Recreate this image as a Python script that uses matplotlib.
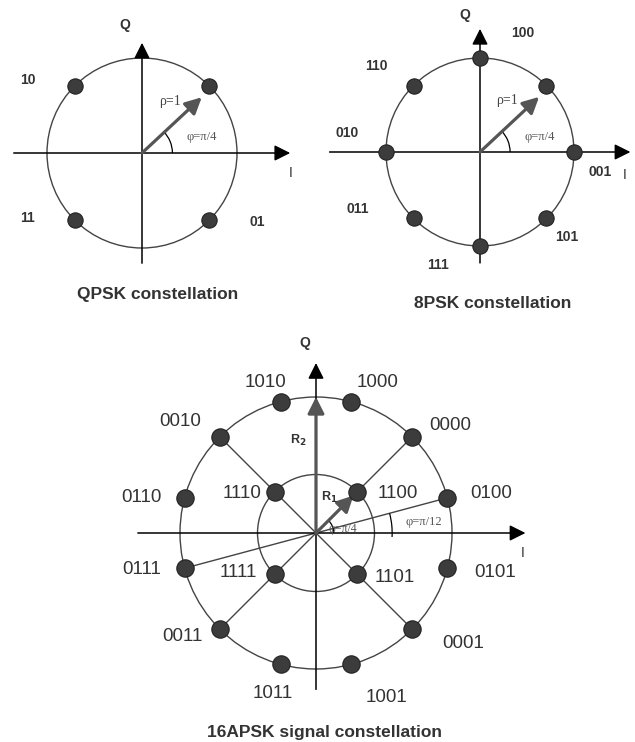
import matplotlib
matplotlib.use("Agg")
import matplotlib.pyplot as plt
from matplotlib.patches import Circle, Arc
import numpy as np

# ─── Data ────────────────────────────────────────────────────────────────

qpsk_angles = [45, 135, 225, 315]
qpsk_labels = ["10", "11", "01"]

psk8_angles = [0, 45, 90, 135, 180, 225, 270, 315]
psk8_labels = ["100", "110", "010", "001", "011", "101", "111"]

apsk_r1 = 0.43          # inner ring radius (outer ring = 1)
apsk_inner_angles = [45, 135, 225, 315]
apsk_inner_labels = ["1100", "1110", "1111", "1101"]
apsk_outer_angles = [15, 45, 75, 105, 135, 165, 195, 225, 255, 285, 315, 345]
apsk_outer_labels = ["0100", "0000", "1000", "1010", "0010", "0110",
                     "0111", "0011", "1011", "1001", "0001", "0101"]
apsk_spokes = [15, 45, 135]   # full diameters drawn through the centre

titles = ["QPSK constellation", "8PSK constellation",
          "16APSK signal constellation"]

# ─── Layout (pixels / radius units) ──────────────────────────────────────

W, H = 635, 742
SANS = "Liberation Sans"
SERIF = "Liberation Serif"
TXT = "#333333"

qpsk_label_xy = [(-1.20, 0.77), (-1.20, -0.68), (1.21, -0.73)]
psk8_label_xy = [(0.46, 1.27), (-1.10, 0.91), (-1.41, 0.20), (1.28, -0.21),
                 (-1.30, -0.61), (0.92, -0.90), (-0.45, -1.20)]
apsk_inner_xy = [(0.60, 0.29), (-0.54, 0.29), (-0.57, -0.29), (0.58, -0.33)]
apsk_outer_xy = [(1.29, 0.29), (0.985, 0.79), (0.45, 1.11), (-0.375, 1.11),
                 (-1.0, 0.82), (-1.28, 0.26), (-1.28, -0.27), (-0.98, -0.76),
                 (-0.32, -1.18), (0.52, -1.21), (1.08, -0.81), (1.32, -0.29)]


def panel(fig, cx, cy, scale, box):
    """Axes covering a pixel box, data units = circle radius."""
    left, top, right, bottom = box
    ax = fig.add_axes([left / W, 1 - bottom / H,
                       (right - left) / W, (bottom - top) / H])
    ax.set_xlim((left - cx) / scale, (right - cx) / scale)
    ax.set_ylim((cy - bottom) / scale, (cy - top) / scale)
    ax.axis("off")
    return ax


def axes_cross(ax, xl, xr, yb, yt):
    for start, end in [((xl, 0), (xr, 0)), ((0, yb), (0, yt))]:
        ax.annotate("", xy=end, xytext=start,
                    arrowprops=dict(arrowstyle="-|>,head_length=0.8,head_width=0.4",
                                    color="black", lw=1.1, mutation_scale=12,
                                    shrinkA=0, shrinkB=0), zorder=2)


def gray_arrow(ax, angle, length):
    a = np.deg2rad(angle)
    ax.annotate("", xy=(length * np.cos(a), length * np.sin(a)), xytext=(0, 0),
                arrowprops=dict(arrowstyle="-|>,head_length=0.75,head_width=0.38",
                                color="#555555", lw=2.3, mutation_scale=13,
                                shrinkA=0, shrinkB=0), zorder=3)


def points(ax, angles, radius, ms):
    a = np.deg2rad(angles)
    ax.plot(radius * np.cos(a), radius * np.sin(a), "o", ms=ms,
            color="#3c3c3c", mec="#222222", mew=0.8, zorder=4, ls="none")


def ring(ax, radius):
    ax.add_patch(Circle((0, 0), radius, fill=False, ec="#444444", lw=1.0, zorder=1))


fig = plt.figure(figsize=(W / 100, H / 100), dpi=100)
fig.patch.set_facecolor("white")

# ── QPSK ──
ax = panel(fig, 142, 153, 95, (0, 0, 315, 320))
ring(ax, 1)
axes_cross(ax, -1.35, 1.56, -1.16, 1.16)
points(ax, qpsk_angles, 1, 11)
gray_arrow(ax, 43, 0.86)
ax.add_patch(Arc((0, 0), 0.64, 0.64, theta1=0, theta2=45, lw=0.9, color="black"))
for lab, (x, y) in zip(qpsk_labels, qpsk_label_xy):
    ax.text(x, y, lab, ha="center", va="center", fontsize=10, fontweight="bold",
            family=SANS, color=TXT)
ax.text(-0.18, 1.35, "Q", ha="center", va="center", fontsize=10,
        fontweight="bold", family=SANS, color=TXT)
ax.text(1.56, -0.21, "I", ha="center", va="center", fontsize=10,
        family=SANS, color=TXT)
ax.text(0.29, 0.54, "ρ=1", ha="center", va="center", fontsize=10,
        family=SERIF, color="#444444")
ax.text(0.63, 0.17, "φ=π/4", ha="center", va="center", fontsize=9,
        family=SERIF, color="#555555")
ax.text(0.16, -1.49, titles[0], ha="center", va="center", fontsize=12.5,
        fontweight="bold", family=SANS, color=TXT)

# ── 8PSK ──
ax = panel(fig, 480, 152, 94, (315, 0, 635, 320))
ring(ax, 1)
axes_cross(ax, -1.6, 1.6, -1.18, 1.31)
points(ax, psk8_angles, 1, 11)
gray_arrow(ax, 43, 0.86)
ax.add_patch(Arc((0, 0), 0.64, 0.64, theta1=0, theta2=45, lw=0.9, color="black"))
for lab, (x, y) in zip(psk8_labels, psk8_label_xy):
    ax.text(x, y, lab, ha="center", va="center", fontsize=10, fontweight="bold",
            family=SANS, color=TXT)
ax.text(-0.16, 1.46, "Q", ha="center", va="center", fontsize=10,
        fontweight="bold", family=SANS, color=TXT)
ax.text(1.54, -0.24, "I", ha="center", va="center", fontsize=10,
        family=SANS, color=TXT)
ax.text(0.29, 0.55, "ρ=1", ha="center", va="center", fontsize=10,
        family=SERIF, color="#444444")
ax.text(0.64, 0.16, "φ=π/4", ha="center", va="center", fontsize=9,
        family=SERIF, color="#555555")
ax.text(0.14, -1.61, titles[1], ha="center", va="center", fontsize=12.5,
        fontweight="bold", family=SANS, color=TXT)

# ── 16APSK ──
ax = panel(fig, 316, 533, 136, (0, 320, 635, 742))
ring(ax, 1)
ring(ax, apsk_r1)
for ang in apsk_spokes:
    a = np.deg2rad(ang)
    ax.plot([-np.cos(a), np.cos(a)], [-np.sin(a), np.sin(a)],
            color="#444444", lw=1.0, zorder=1)
axes_cross(ax, -1.31, 1.54, -1.15, 1.25)
points(ax, apsk_outer_angles, 1, 12.5)
points(ax, apsk_inner_angles, apsk_r1, 12.5)
gray_arrow(ax, 90, 1.0)
gray_arrow(ax, 45, 0.39)
ax.add_patch(Arc((0, 0), 0.26, 0.26, theta1=0, theta2=45, lw=0.9, color="black"))
ax.add_patch(Arc((0, 0), 1.12, 1.12, theta1=-3, theta2=15, lw=0.9, color="black"))
for lab, (x, y) in zip(apsk_outer_labels + apsk_inner_labels,
                       apsk_outer_xy + apsk_inner_xy):
    ax.text(x, y, lab, ha="center", va="center", fontsize=13.5,
            family=SANS, color=TXT)
ax.text(-0.08, 1.40, "Q", ha="center", va="center", fontsize=10,
        fontweight="bold", family=SANS, color=TXT)
ax.text(1.52, -0.15, "I", ha="center", va="center", fontsize=10,
        family=SANS, color=TXT)
ax.text(-0.13, 0.68, r"R$_\mathbf{2}$", ha="center", va="center", fontsize=9,
        fontweight="bold", family=SANS, color=TXT)
ax.text(0.10, 0.26, r"R$_\mathbf{1}$", ha="center", va="center", fontsize=9,
        fontweight="bold", family=SANS, color=TXT)
ax.text(0.20, 0.03, "φ=π/4", ha="center", va="center", fontsize=8.5,
        family=SERIF, color="#555555")
ax.text(0.79, 0.08, "φ=π/12", ha="center", va="center", fontsize=9,
        family=SERIF, color="#555555")
ax.text(0.06, -1.47, titles[2], ha="center", va="center", fontsize=12.5,
        fontweight="bold", family=SANS, color=TXT)

fig.savefig("out.png", dpi=100, facecolor="white")
